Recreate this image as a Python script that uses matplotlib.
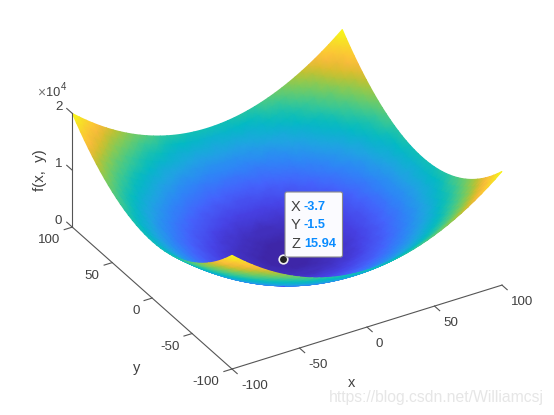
import numpy as np
import matplotlib
matplotlib.use("Agg")
import matplotlib.pyplot as plt
from matplotlib.colors import LinearSegmentedColormap
from matplotlib.patches import FancyBboxPatch
from matplotlib.transforms import IdentityTransform
from mpl_toolkits.mplot3d import proj3d

W, H = 554, 415

half_axis = [100, 95, 90, 85, 80, 75, 70, 65, 60, 55, 50, 45, 40, 35, 30, 25, 20, 15, 10, 5, 0]

# heights for y = 100 ... 0, one row per x = 100 ... 0
# the bowl is symmetric, the other three quarters are mirrored from these
z_x100 = [20000, 19025, 18100, 17225, 16400, 15625, 14900, 14225, 13600, 13025, 12500, 12025, 11600, 11225, 10900, 10625, 10400, 10225, 10100, 10025, 10000]
z_x95 = [19025, 18050, 17125, 16250, 15425, 14650, 13925, 13250, 12625, 12050, 11525, 11050, 10625, 10250, 9925, 9650, 9425, 9250, 9125, 9050, 9025]
z_x90 = [18100, 17125, 16200, 15325, 14500, 13725, 13000, 12325, 11700, 11125, 10600, 10125, 9700, 9325, 9000, 8725, 8500, 8325, 8200, 8125, 8100]
z_x85 = [17225, 16250, 15325, 14450, 13625, 12850, 12125, 11450, 10825, 10250, 9725, 9250, 8825, 8450, 8125, 7850, 7625, 7450, 7325, 7250, 7225]
z_x80 = [16400, 15425, 14500, 13625, 12800, 12025, 11300, 10625, 10000, 9425, 8900, 8425, 8000, 7625, 7300, 7025, 6800, 6625, 6500, 6425, 6400]
z_x75 = [15625, 14650, 13725, 12850, 12025, 11250, 10525, 9850, 9225, 8650, 8125, 7650, 7225, 6850, 6525, 6250, 6025, 5850, 5725, 5650, 5625]
z_x70 = [14900, 13925, 13000, 12125, 11300, 10525, 9800, 9125, 8500, 7925, 7400, 6925, 6500, 6125, 5800, 5525, 5300, 5125, 5000, 4925, 4900]
z_x65 = [14225, 13250, 12325, 11450, 10625, 9850, 9125, 8450, 7825, 7250, 6725, 6250, 5825, 5450, 5125, 4850, 4625, 4450, 4325, 4250, 4225]
z_x60 = [13600, 12625, 11700, 10825, 10000, 9225, 8500, 7825, 7200, 6625, 6100, 5625, 5200, 4825, 4500, 4225, 4000, 3825, 3700, 3625, 3600]
z_x55 = [13025, 12050, 11125, 10250, 9425, 8650, 7925, 7250, 6625, 6050, 5525, 5050, 4625, 4250, 3925, 3650, 3425, 3250, 3125, 3050, 3025]
z_x50 = [12500, 11525, 10600, 9725, 8900, 8125, 7400, 6725, 6100, 5525, 5000, 4525, 4100, 3725, 3400, 3125, 2900, 2725, 2600, 2525, 2500]
z_x45 = [12025, 11050, 10125, 9250, 8425, 7650, 6925, 6250, 5625, 5050, 4525, 4050, 3625, 3250, 2925, 2650, 2425, 2250, 2125, 2050, 2025]
z_x40 = [11600, 10625, 9700, 8825, 8000, 7225, 6500, 5825, 5200, 4625, 4100, 3625, 3200, 2825, 2500, 2225, 2000, 1825, 1700, 1625, 1600]
z_x35 = [11225, 10250, 9325, 8450, 7625, 6850, 6125, 5450, 4825, 4250, 3725, 3250, 2825, 2450, 2125, 1850, 1625, 1450, 1325, 1250, 1225]
z_x30 = [10900, 9925, 9000, 8125, 7300, 6525, 5800, 5125, 4500, 3925, 3400, 2925, 2500, 2125, 1800, 1525, 1300, 1125, 1000, 925, 900]
z_x25 = [10625, 9650, 8725, 7850, 7025, 6250, 5525, 4850, 4225, 3650, 3125, 2650, 2225, 1850, 1525, 1250, 1025, 850, 725, 650, 625]
z_x20 = [10400, 9425, 8500, 7625, 6800, 6025, 5300, 4625, 4000, 3425, 2900, 2425, 2000, 1625, 1300, 1025, 800, 625, 500, 425, 400]
z_x15 = [10225, 9250, 8325, 7450, 6625, 5850, 5125, 4450, 3825, 3250, 2725, 2250, 1825, 1450, 1125, 850, 625, 450, 325, 250, 225]
z_x10 = [10100, 9125, 8200, 7325, 6500, 5725, 5000, 4325, 3700, 3125, 2600, 2125, 1700, 1325, 1000, 725, 500, 325, 200, 125, 100]
z_x5 = [10025, 9050, 8125, 7250, 6425, 5650, 4925, 4250, 3625, 3050, 2525, 2050, 1625, 1250, 925, 650, 425, 250, 125, 50, 25]
z_x0 = [10000, 9025, 8100, 7225, 6400, 5625, 4900, 4225, 3600, 3025, 2500, 2025, 1600, 1225, 900, 625, 400, 225, 100, 25, 0]
z_quarter = [z_x100, z_x95, z_x90, z_x85, z_x80, z_x75, z_x70, z_x65, z_x60, z_x55, z_x50,
             z_x45, z_x40, z_x35, z_x30, z_x25, z_x20, z_x15, z_x10, z_x5, z_x0]

x_ticks = [-100, -50, 0, 50, 100]
y_ticks = [-100, -50, 0, 50, 100]
z_ticks = [0, 10000, 20000]
z_tick_labels = ["0", "1", "2"]

tip_x = -3.7
tip_y = -1.5
tip_z = 15.94

parula_colors = [
    (0.00, (0.2422, 0.1504, 0.6603)),
    (0.10, (0.2783, 0.2559, 0.8991)),
    (0.19, (0.2699, 0.3892, 0.9906)),
    (0.29, (0.1786, 0.5289, 0.9682)),
    (0.38, (0.1248, 0.6459, 0.8883)),
    (0.48, (0.0067, 0.7312, 0.7660)),
    (0.57, (0.2161, 0.7843, 0.5923)),
    (0.67, (0.5044, 0.7993, 0.3480)),
    (0.76, (0.8203, 0.7498, 0.1535)),
    (0.825, (0.9728, 0.7298, 0.2394)),
    (0.87, (0.9952, 0.7893, 0.2028)),
    (0.94, (0.9610, 0.8890, 0.1537)),
    (1.00, (0.9769, 0.9839, 0.0805)),
]
parula = LinearSegmentedColormap.from_list("parula", parula_colors, N=64)

TEXT_COLOR = "#404040"
LINE_COLOR = "#555555"
TIP_BLUE = "#0a8cff"

plt.rcParams["font.family"] = ["Liberation Sans", "DejaVu Sans"]


def project(ax, xs, ys, zs):
    """3D data values to the 2D coordinates of the axes."""
    xs = np.asarray(xs, dtype=float)
    ys = np.asarray(ys, dtype=float)
    zs = np.asarray(zs, dtype=float)
    u, v, _ = proj3d.proj_transform(xs.ravel(), ys.ravel(), zs.ravel(), ax.get_proj())
    return np.reshape(u, xs.shape), np.reshape(v, xs.shape)


def place_axes(ax):
    """Scale and shift the axes so that the x edge of the floor lands where the reference has it."""
    u, v = project(ax, [-100, 100], [-100, -100], [0, 0])
    view = ax.viewLim
    k = 270.0 / (u[1] - u[0])
    side = (view.x1 - view.x0) * k
    left = 232 - (u[0] - view.x0) * k
    bottom = (H - 369) - (v[0] - view.y0) * k
    ax.set_position([left / W, bottom / H, side / W, side / H])


def line3d(ax, xs, ys, zs):
    ax.plot(xs, ys, zs, color=LINE_COLOR, lw=0.8, clip_on=False, zorder=2)


def tick_label(ax, text, x, y, z, dx, dy, ha):
    u, v = project(ax, [x], [y], [z])
    ax.annotate(text, (u[0], v[0]), xytext=(dx, dy), textcoords="offset pixels",
                ha=ha, va="center", fontsize=9.6, color=TEXT_COLOR, annotation_clip=False)


def fig_text(fig, x, y, text, **kwargs):
    """Text placed by pixel position, y counted from the top."""
    kwargs.setdefault("color", TEXT_COLOR)
    kwargs.setdefault("va", "center")
    fig.text(x / W, 1 - y / H, text, zorder=8, **kwargs)


fig = plt.figure(figsize=(W / 100, H / 100), dpi=100)
ax = fig.add_subplot(projection="3d", proj_type="ortho", computed_zorder=False)
ax.view_init(elev=31.7, azim=-120.6)
ax.set_box_aspect((1, 1, 0.426))
ax.set_xlim(-100, 100)
ax.set_ylim(-100, 100)
ax.set_zlim(0, 20000)
ax.set_axis_off()
place_axes(ax)

# rows run from the far corner to the near one, so the mesh paints back to front
axis_values = half_axis + [-v for v in half_axis[-2::-1]]
z_half = [row + row[-2::-1] for row in z_quarter]
X, Y = np.meshgrid(axis_values, axis_values, indexing="ij")
Z = np.array(z_half + z_half[-2::-1], dtype=float)
U, V = project(ax, X, Y, Z)
mesh = ax.pcolormesh(U, V, Z, cmap=parula, vmin=0, vmax=20000, shading="gouraud", zorder=1)
mesh.set_clip_on(False)
mesh.do_3d_projection = lambda: 0  # Axes3D.draw asks every collection for this

# Axis lines
line3d(ax, [-100, 100], [-100, -100], [0, 0])
line3d(ax, [-100, -100], [-100, 100], [0, 0])
line3d(ax, [-100, -100], [100, 100], [0, 20000])

for t in x_ticks:
    line3d(ax, [t, t], [-100, -106.5], [0, 0])
    tick_label(ax, str(t), t, -100, 0, 9, -17, "left")
for t in y_ticks:
    line3d(ax, [-100, -106], [t, t], [0, 0])
    tick_label(ax, str(t), -100, t, 0, -12.5, -13, "right")
for t, label in zip(z_ticks, z_tick_labels):
    line3d(ax, [-100, -100], [100, 107], [t, t])
    tick_label(ax, label, -100, 100, t, -10, 6, "right")

fig_text(fig, 352, 383, "x", fontsize=10.5, ha="center")
fig_text(fig, 137, 368, "y", fontsize=10.5, ha="center")
fig_text(fig, 40, 170.5, "f(x,  y)", fontsize=10.8, ha="center", rotation=90)

# Exponent of the z axis
fig_text(fig, 37, 93, "\u00d7", fontsize=10, color="#777777")
fig_text(fig, 46, 92.5, "10", fontsize=9.2)
fig_text(fig, 60.5, 87, "4", fontsize=7)

# Data tip
ax.plot([tip_x], [tip_y], [tip_z], "o", ms=6.2, mfc="#222222", mec="#f0f0f0", mew=1.2, clip_on=False, zorder=3)
tip_box = FancyBboxPatch((285, H - 257), 57.5, 65, boxstyle="round,pad=0,rounding_size=2",
                         transform=IdentityTransform(), facecolor="#fbfbff", edgecolor="#8c8c8c",
                         linewidth=0.8, zorder=7)
fig.add_artist(tip_box)
for y_pos, name, value in zip([207, 225, 244], ["X", "Y", "Z"], [tip_x, tip_y, tip_z]):
    fig_text(fig, 291, y_pos, name, fontsize=10.5)
    fig_text(fig, 304, y_pos, str(value), fontsize=9.2, color=TIP_BLUE, fontweight="bold")

fig_text(fig, 329, 397, "https://blog.csdn.net/Williamcsj", fontsize=11.3, color="#e6e6e6")

fig.savefig("out.png", dpi=100)
